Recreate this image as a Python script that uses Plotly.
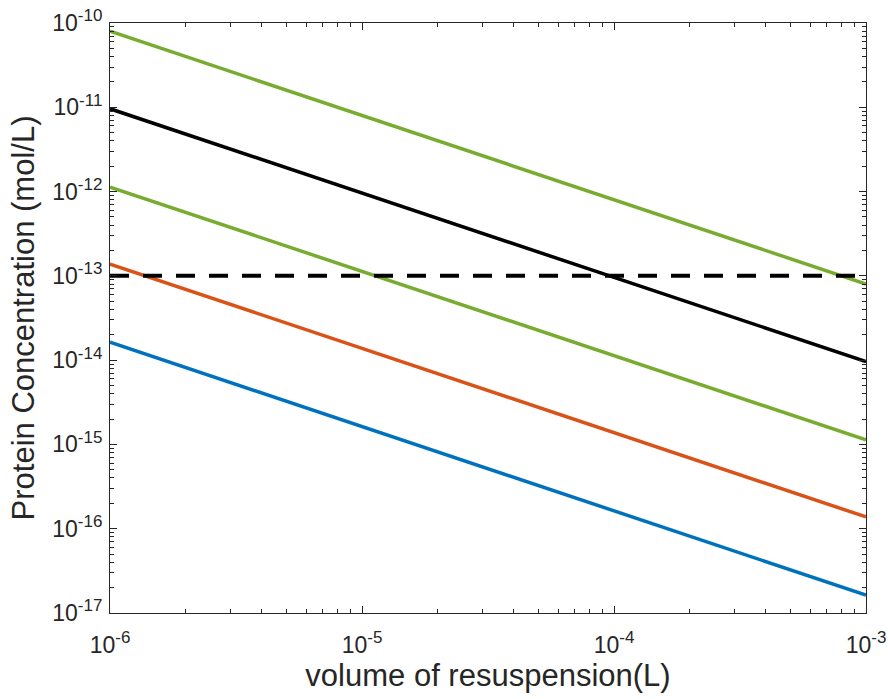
import plotly.graph_objects as go

volume = [1e-6, 1e-5, 1e-4, 1e-3]
green_high = [8.0e-11, 8.0e-12, 8.0e-13, 8.0e-14]
black_line = [9.6e-12, 9.6e-13, 9.6e-14, 9.6e-15]
green_low = [1.13e-12, 1.13e-13, 1.13e-14, 1.13e-15]
orange_line = [1.38e-13, 1.38e-14, 1.38e-15, 1.38e-16]
blue_line = [1.63e-14, 1.63e-15, 1.63e-16, 1.63e-17]
threshold_x = [1e-6, 1e-3]
threshold_y = [1e-13, 1e-13]

x_exponents = ["-6", "-5", "-4", "-3"]
y_exponents = ["-17", "-16", "-15", "-14", "-13", "-12", "-11", "-10"]
x_tickvals = [1e-6, 1e-5, 1e-4, 1e-3]
y_tickvals = [1e-17, 1e-16, 1e-15, 1e-14, 1e-13, 1e-12, 1e-11, 1e-10]

def label(exp):
    return "10<sup><span style='font-size:17px'>%s</span></sup>" % exp

x_ticktext = [label(e) for e in x_exponents]
y_ticktext = [label(e) for e in y_exponents]

def minor_vals(lo, hi):
    vals = []
    for e in range(lo, hi):
        for m in range(2, 10):
            vals.append(m * 10.0 ** e)
    return vals

FONT = "Liberation Sans, Arial, sans-serif"

fig = go.Figure()
series = [
    (green_high, "#77AC30"),
    (black_line, "#000000"),
    (green_low, "#77AC30"),
    (orange_line, "#D95319"),
    (blue_line, "#0072BD"),
]
for ys, col in series:
    fig.add_trace(go.Scatter(x=volume, y=ys, mode="lines",
                             line=dict(color=col, width=3.5), showlegend=False))
fig.add_trace(go.Scatter(x=threshold_x, y=threshold_y, mode="lines",
                         line=dict(color="#000000", width=4, dash="19px,14px"),
                         showlegend=False))

axis_common = dict(
    type="log", showgrid=False, zeroline=False, showline=True, automargin=False,
    linecolor="#262626", linewidth=1, mirror="ticks",
    ticks="inside", ticklen=7, tickcolor="#262626", tickwidth=1,
    tickfont=dict(family=FONT, size=23, color="#262626"),
)

fig.update_xaxes(
    range=[-6, -3], tickmode="array", tickvals=x_tickvals, ticktext=x_ticktext,
    ticklabelstandoff=11,
    minor=dict(ticks="inside", ticklen=4, tickcolor="#262626", tickmode="array",
               tickvals=minor_vals(-6, -3), showgrid=False),
    title=dict(text="volume of resuspension(L)",
               font=dict(family=FONT, size=31, color="#262626"),
               standoff=4),
    **axis_common)
fig.update_yaxes(
    range=[-17, -10], tickmode="array", tickvals=y_tickvals, ticktext=y_ticktext,
    ticklabelstandoff=2,
    minor=dict(ticks="inside", ticklen=4, tickcolor="#262626", tickmode="array",
               tickvals=minor_vals(-17, -10), showgrid=False),
    title=dict(text="Protein Concentration (mol/L)",
               font=dict(family=FONT, size=31, color="#262626"),
               standoff=8),
    **axis_common)

fig.update_layout(
    width=888, height=699,
    margin=dict(l=110, r=22, t=23, b=86),
    paper_bgcolor="white", plot_bgcolor="white",
)
fig.write_html("out.html")
